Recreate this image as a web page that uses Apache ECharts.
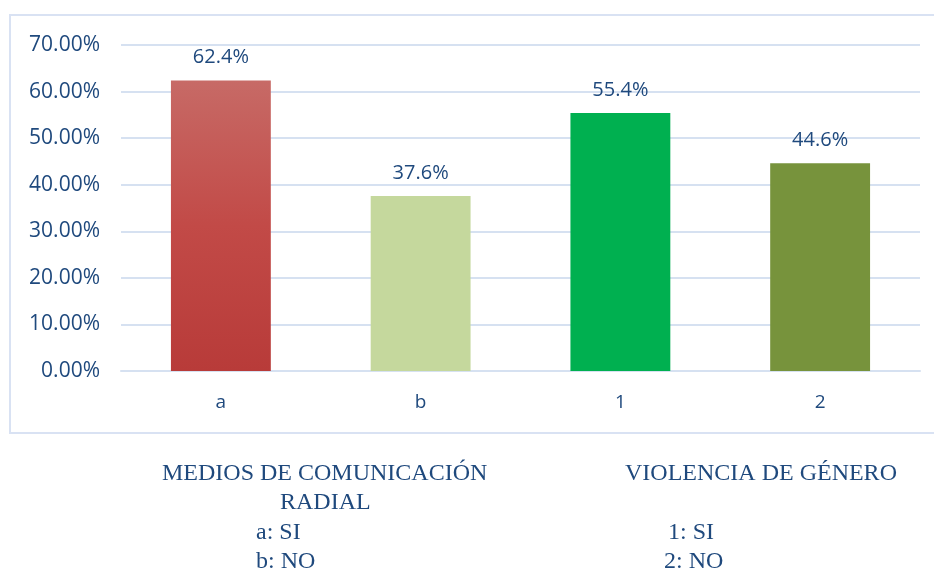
<!DOCTYPE html>
<html>
<head>
<meta charset="utf-8">
<script src="https://cdn.jsdelivr.net/npm/echarts@6/dist/echarts.min.js"></script>
<style>
  html, body { margin: 0; padding: 0; background: #fff; }
  #main { width: 934px; height: 573px; }
</style>
</head>
<body>
<div id="main"></div>
<script>
var categories = ['a', 'b', '1', '2'];
var values = [62.4, 37.6, 55.4, 44.6];
var yTicks = [0, 10, 20, 30, 40, 50, 60, 70];

var textBlue = '#1F497D';
var serif = '"Liberation Serif", "DejaVu Serif", serif';

var barColors = [
    new echarts.graphic.LinearGradient(0, 0, 0, 1, [
        {offset: 0, color: '#C76A66'},
        {offset: 0.5, color: '#C24A47'},
        {offset: 1, color: '#B83B39'}
    ]),
    '#C5D89D',
    '#00B050',
    '#77933C'
];

var myChart = echarts.init(document.getElementById('main'));

var serdata = [];
for (var i = 0; i < values.length; i++) {
    serdata.push({
        value: values[i],
        itemStyle: {color: barColors[i]}
    });
}

var option = {
    animation: false,
    grid: {
        left: 121,
        right: 14,
        top: 45,
        bottom: 202
    },
    xAxis: {
        type: 'category',
        data: categories,
        axisLine: {lineStyle: {color: '#D6E1F1', width: 2}},
        axisTick: {show: false},
        axisLabel: {
            color: textBlue,
            fontFamily: '"Open Sans", sans-serif',
            fontSize: 19,
            margin: 22
        }
    },
    yAxis: {
        type: 'value',
        min: yTicks[0],
        max: yTicks[yTicks.length - 1],
        interval: 10,
        axisLine: {show: false},
        axisTick: {show: false},
        splitLine: {lineStyle: {color: '#D6E1F1', width: 2}},
        axisLabel: {
            color: textBlue,
            fontFamily: '"Open Sans", sans-serif',
            fontSize: 21,
            margin: 21,
            formatter: function (v) { return v.toFixed(2) + '%'; }
        }
    },
    series: [{
        type: 'bar',
        barWidth: '50%',
        data: serdata,
        label: {
            show: true,
            position: 'top',
            distance: 13,
            color: textBlue,
            fontFamily: '"Open Sans", sans-serif',
            fontSize: 20,
            formatter: function (p) { return p.value.toFixed(1) + '%'; }
        }
    }],
    graphic: [
        {
            type: 'rect',
            shape: {x: 10, y: 15, width: 940, height: 418},
            style: {fill: 'none', stroke: '#D9E2F3', lineWidth: 2},
            silent: true
        },
        {type: 'text', left: 162, top: 462, style: {text: 'MEDIOS DE COMUNICACIÓN', font: '24px ' + serif, fill: textBlue}},
        {type: 'text', left: 280, top: 491, style: {text: 'RADIAL', font: '24px ' + serif, fill: textBlue}},
        {type: 'text', left: 256, top: 521, style: {text: 'a: SI', font: '24px ' + serif, fill: textBlue}},
        {type: 'text', left: 256, top: 550, style: {text: 'b: NO', font: '24px ' + serif, fill: textBlue}},
        {type: 'text', left: 625, top: 462, style: {text: 'VIOLENCIA DE GÉNERO', font: '24px ' + serif, fill: textBlue}},
        {type: 'text', left: 668, top: 521, style: {text: '1: SI', font: '24px ' + serif, fill: textBlue}},
        {type: 'text', left: 664, top: 550, style: {text: '2: NO', font: '24px ' + serif, fill: textBlue}}
    ]
};
myChart.setOption(option);
</script>
</body>
</html>
